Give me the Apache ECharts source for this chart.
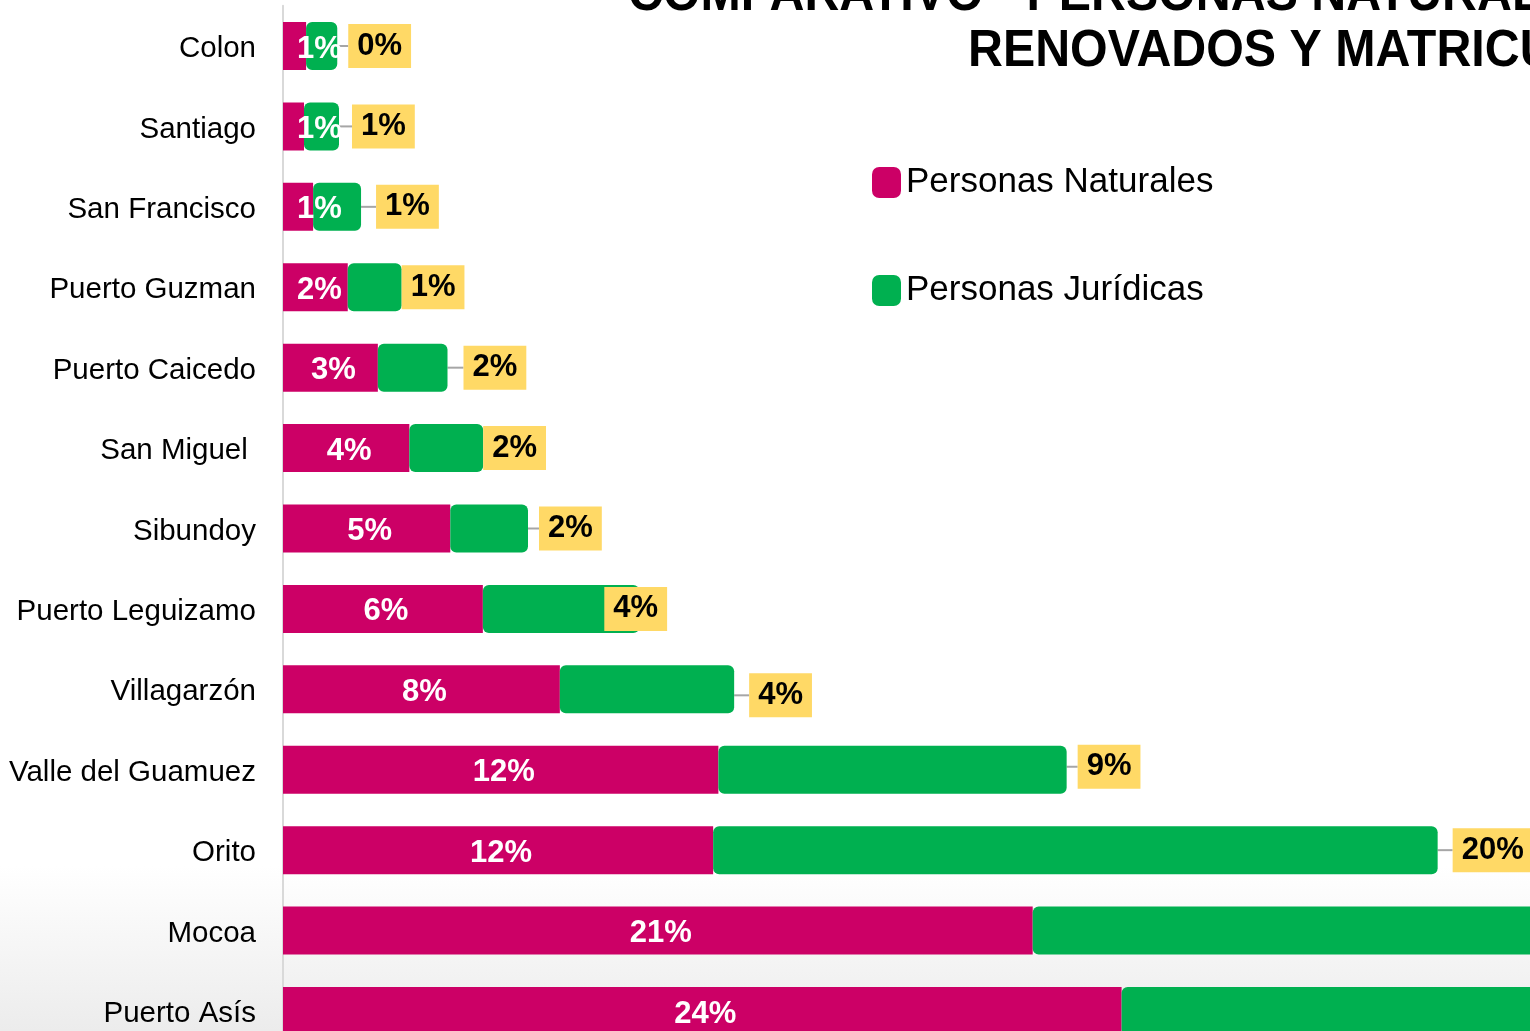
<!DOCTYPE html>
<html>
<head>
<meta charset="utf-8">
<script src="https://cdn.jsdelivr.net/npm/echarts@6/dist/echarts.min.js"></script>
<style>
html,body{margin:0;padding:0;}
#chart{width:1530px;height:1031px;background:linear-gradient(to bottom,#ffffff 0%,#ffffff 84%,#ececec 100%);}
</style>
</head>
<body>
<div id="chart"></div>
<script>
// ---- data ----
const categories = ['Colon','Santiago','San Francisco','Puerto Guzman','Puerto Caicedo','San Miguel ','Sibundoy','Puerto Leguizamo','Villagarzón','Valle del Guamuez','Orito','Mocoa','Puerto Asís'];
const naturales = [0.66,0.6,0.86,1.85,2.71,3.61,4.78,5.71,7.91,12.44,12.29,21.42,23.96];
const juridicas = [0.89,1.0,1.37,1.54,1.99,2.11,2.22,4.47,4.98,9.95,20.7,25,22];
const naturalesLabels = ['1%','1%','1%','2%','3%','4%','5%','6%','8%','12%','12%','21%','24%'];
const juridicasLabels = ['0%','1%','1%','1%','2%','2%','2%','4%','4%','9%','20%','25%','22%'];
const seriesNames = ['Personas Naturales','Personas Jurídicas'];
const titleLines = ['COMPARATIVO - PERSONAS NATURALES Y JURÍDICAS','RENOVADOS Y MATRICULADOS'];

// ---- label nudges (layout only) ----
const boxShiftX = [11,13,15,0,16,0,11,-35,15,11,15,12,12];
const boxShiftY = [0,0,0,0,0,0,0,0,6,-3,0,0,0];

const FONT = '"Liberation Sans", Arial, sans-serif';
const chart = echarts.init(document.getElementById('chart'), null, {renderer:'canvas'});

const jurData = juridicas.map((v,i) => ({
  value: v,
  labelLine: {show: boxShiftX[i] > 0}
}));

const option = {
  backgroundColor: 'transparent',
  animation: false,
  textStyle: {fontFamily: FONT},
  graphic: [
    {type:'text', x:628, y:-4, scaleX:0.93, z:10,
     style:{text:titleLines[0], font:'bold 52px ' + FONT, fill:'#000', align:'left', verticalAlign:'middle', textAlign:'left', textVerticalAlign:'middle'}},
    {type:'text', x:968, y:52, scaleX:0.93, z:10,
     style:{text:titleLines[1], font:'bold 52px ' + FONT, fill:'#000', align:'left', verticalAlign:'middle', textAlign:'left', textVerticalAlign:'middle'}}
  ],
  legend: {
    data: seriesNames,
    orient: 'vertical',
    left: 872,
    top: 165,
    padding: 0,
    itemWidth: 29,
    itemHeight: 31,
    itemGap: 73,
    icon: 'roundRect',
    textStyle: {fontSize: 35, color: '#000', fontFamily: FONT}
  },
  grid: {left: 283, top: 5.8, width: 1750, height: 1045.4, containLabel: false, outerBoundsMode: 'none'},
  xAxis: {type:'value', min:0, max:50, show:false},
  yAxis: {
    type: 'category',
    data: categories,
    inverse: true,
    axisLine: {show:true, lineStyle:{color:'#d9d9d9', width:2}},
    axisTick: {show:false},
    axisLabel: {
      margin: 27,
      formatter: v => '{a|' + v + '}',
      rich: {a: {fontSize: 29.5, color: '#000', fontFamily: FONT, padding: [6, 0, 0, 0]}}
    }
  },
  series: [
    {
      name: seriesNames[0],
      type: 'bar',
      stack: 'total',
      barWidth: 48,
      data: naturales,
      itemStyle: {color:'#CC0066'},
      label: {
        show: true,
        position: 'inside',
        overflow: 'none',
        formatter: p => naturalesLabels[p.dataIndex],
        color: '#fff',
        fontSize: 31,
        fontWeight: 'bold',
        fontFamily: FONT
      },
      labelLayout: function (p) {
        if (p.labelRect.x < 293) return {dx: 297 - p.labelRect.x, dy: 3};
        return {dx: 3, dy: 3};
      }
    },
    {
      name: seriesNames[1],
      type: 'bar',
      stack: 'total',
      barWidth: 48,
      data: jurData,
      itemStyle: {color:'#00B050', borderRadius: 6},
      label: {
        show: true,
        position: 'right',
        distance: 0,
        formatter: p => juridicasLabels[p.dataIndex],
        color: '#000',
        fontSize: 31,
        fontWeight: 'bold',
        fontFamily: FONT,
        backgroundColor: '#FFD966',
        padding: [6, 9, 6, 9],
        lineHeight: 32
      },
      labelLine: {show: true, lineStyle: {color:'#a6a6a6', width:2}},
      labelLayout: function (p) {
        return {dx: boxShiftX[p.dataIndex], dy: boxShiftY[p.dataIndex]};
      }
    }
  ]
};
chart.setOption(option);
</script>
</body>
</html>
